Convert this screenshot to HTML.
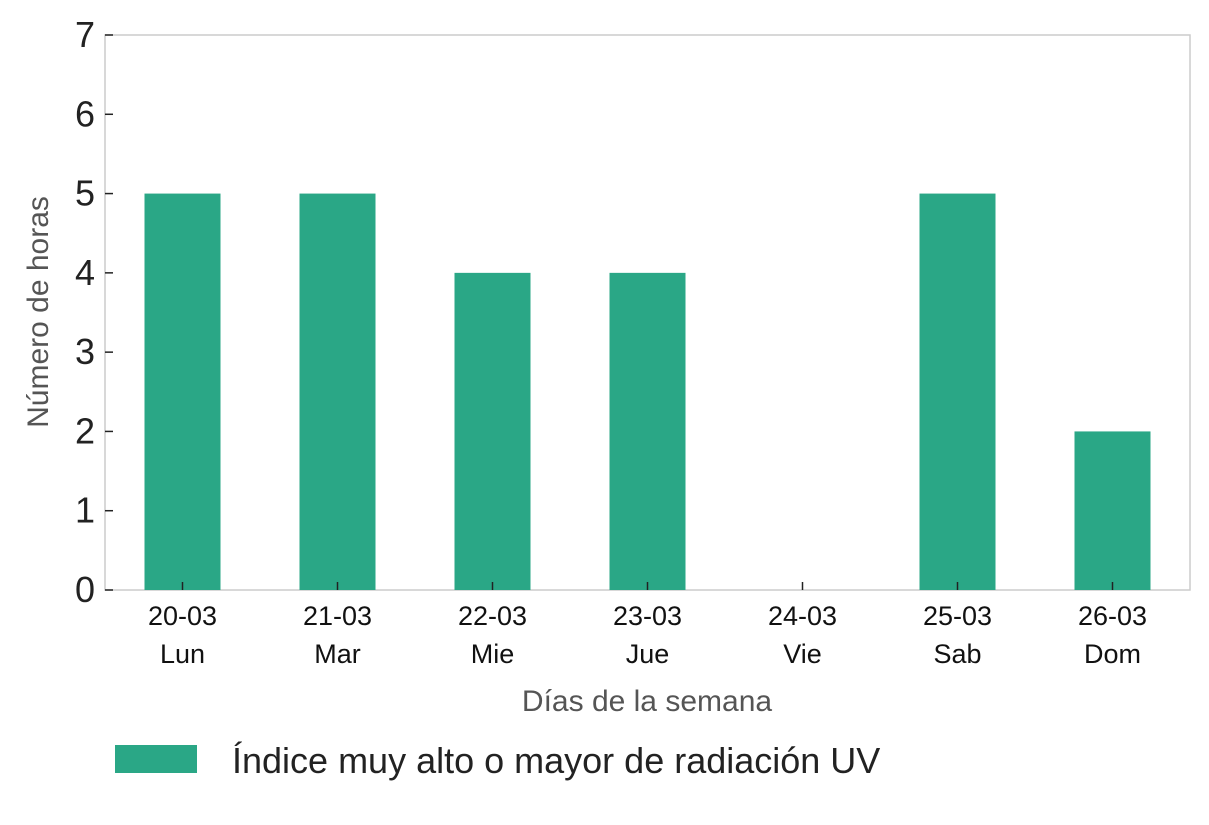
<!DOCTYPE html>
<html><head><meta charset="utf-8"><style>
body{margin:0;background:#fff;}
svg text{font-family:"Liberation Sans",sans-serif;}
</style></head><body>
<svg id="chart" width="1209" height="820">
<rect x="105" y="35" width="1085" height="555" fill="none" stroke="#cccccc" stroke-width="1.5"/>
<g id="bars"></g><g id="yticks"></g><g id="xticks"></g>
<text x="48" y="312" transform="rotate(-90 48 312)" text-anchor="middle" font-size="30" fill="#555">Número de horas</text>
<text x="647" y="711" text-anchor="middle" font-size="30" fill="#555">Días de la semana</text>
<rect x="115" y="745" width="82" height="28" fill="#2aa786"/>
<text x="232" y="773" font-size="36" fill="#222">Índice muy alto o mayor de radiación UV</text>
</svg>
<script>
const dates=["20-03","21-03","22-03","23-03","24-03","25-03","26-03"];
const days=["Lun","Mar","Mie","Jue","Vie","Sab","Dom"];
const hours=[5,5,4,4,0,5,2];
const yTicks=[0,1,2,3,4,5,6,7];
const NS="http://www.w3.org/2000/svg";
const x0=105,x1=1190,y0=590,y1=35,yMax=7;
const step=(x1-x0)/dates.length;
const xc=i=>x0+step*(i+0.5);
const y=v=>y0-(v/yMax)*(y0-y1);
function mk(t,a,p){const e=document.createElementNS(NS,t);for(const k in a)e.setAttribute(k,a[k]);p.appendChild(e);return e;}
const gb=document.getElementById('bars'),gy=document.getElementById('yticks'),gx=document.getElementById('xticks');
hours.forEach((v,i)=>{
 const r=mk('rect',{x:xc(i)-38,y:y(v),width:76,height:y0-y(v),fill:'#2aa786'},gb);
 
 
});
yTicks.forEach(t=>{
 const l=mk('line',{x1:x0,x2:x0+8,y1:y(t),y2:y(t),stroke:'#222','stroke-width':1.5},gy);
 
 
 const tx=mk('text',{x:x0-10,y:y(t)+12,'text-anchor':'end','font-size':36,fill:'#222'},gy);
 tx.textContent=t;
 
 
});
dates.forEach((d,i)=>{
 const l=mk('line',{x1:xc(i),x2:xc(i),y1:y0,y2:y0-8,stroke:'#222','stroke-width':1.5},gx);
 
 
 const t1=mk('text',{x:xc(i),y:625,'text-anchor':'middle','font-size':27,fill:'#111'},gx);
 t1.textContent=d;
 
 
 const t2=mk('text',{x:xc(i),y:663,'text-anchor':'middle','font-size':27,fill:'#111'},gx);
 t2.textContent=days[i];
 
 
});
</script>
</body></html>
